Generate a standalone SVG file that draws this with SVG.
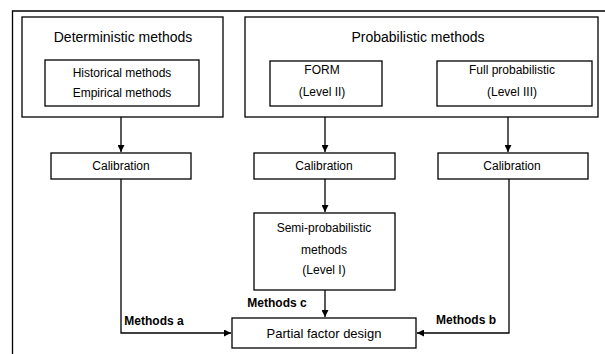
<svg xmlns="http://www.w3.org/2000/svg" width="605" height="354" viewBox="0 0 605 354">
<style>
.box{fill:#fff;stroke:#000;stroke-width:1.3}
.t{font-family:"Liberation Sans",Arial,sans-serif;font-size:12px;fill:#000;text-anchor:middle}
.h{font-size:14px}
.lbl{font-family:"Liberation Sans",Arial,sans-serif;font-size:12px;font-weight:bold;fill:#000;text-anchor:middle}
.ln{fill:none;stroke:#000;stroke-width:1.3}
</style>
<defs>
<marker id="ah" viewBox="0 0 10 10" refX="10" refY="5" markerWidth="7" markerHeight="7" orient="auto" markerUnits="userSpaceOnUse">
<path d="M0,0 L10,5 L0,10 z" fill="#000"/>
</marker>
</defs>
<rect width="605" height="354" fill="#fff"/>
<g id="frame">
<path class="ln" d="M12.5,354 V11 H605"/>
</g>
<g id="deterministic">
<rect class="box" x="22" y="17" width="201" height="100"/>
<text class="t h" x="123" y="42">Deterministic methods</text>
</g>
<g id="historical">
<rect class="box" x="45" y="60" width="154" height="46"/>
<text class="t" x="122" y="77">Historical methods</text>
<text class="t" x="122" y="97">Empirical methods</text>
</g>
<g id="probabilistic">
<rect class="box" x="245" y="17" width="353" height="100"/>
<text class="t h" x="418" y="42">Probabilistic methods</text>
</g>
<g id="form">
<rect class="box" x="270" y="61" width="112" height="45"/>
<text class="t" x="322" y="74">FORM</text>
<text class="t" x="322" y="96">(Level II)</text>
</g>
<g id="full">
<rect class="box" x="437" y="61" width="155" height="45"/>
<text class="t" x="512" y="74">Full probabilistic</text>
<text class="t" x="512" y="96">(Level III)</text>
</g>
<g id="cal1">
<rect class="box" x="51" y="153" width="140" height="26"/>
<text class="t" x="121" y="170">Calibration</text>
</g>
<g id="cal2">
<rect class="box" x="254" y="153" width="141" height="26"/>
<text class="t" x="324" y="170">Calibration</text>
</g>
<g id="cal3">
<rect class="box" x="438" y="153" width="150" height="26"/>
<text class="t" x="512" y="170">Calibration</text>
</g>
<g id="semi">
<rect class="box" x="254" y="213" width="141" height="77"/>
<text class="t" x="324" y="232">Semi-probabilistic</text>
<text class="t" x="324" y="254">methods</text>
<text class="t" x="324" y="274">(Level I)</text>
</g>
<g id="partial">
<rect class="box" x="232" y="318" width="184" height="30"/>
<text class="t" x="324" y="338" style="font-size:13px">Partial factor design</text>
</g>
<g id="connectors">
<path class="ln" d="M121,117 V152" marker-end="url(#ah)"/>
<path class="ln" d="M325,117 V152" marker-end="url(#ah)"/>
<path class="ln" d="M508,117 V152" marker-end="url(#ah)"/>
<path class="ln" d="M325,179 V212" marker-end="url(#ah)"/>
<path class="ln" d="M325,290 V317" marker-end="url(#ah)"/>
<path class="ln" d="M121,179 V333 H231" marker-end="url(#ah)"/>
<path class="ln" d="M509,179 V333 H417" marker-end="url(#ah)"/>
<text class="lbl" x="154" y="325">Methods a</text>
<text class="lbl" x="277" y="307">Methods c</text>
<text class="lbl" x="466" y="324">Methods b</text>
</g>
</svg>
